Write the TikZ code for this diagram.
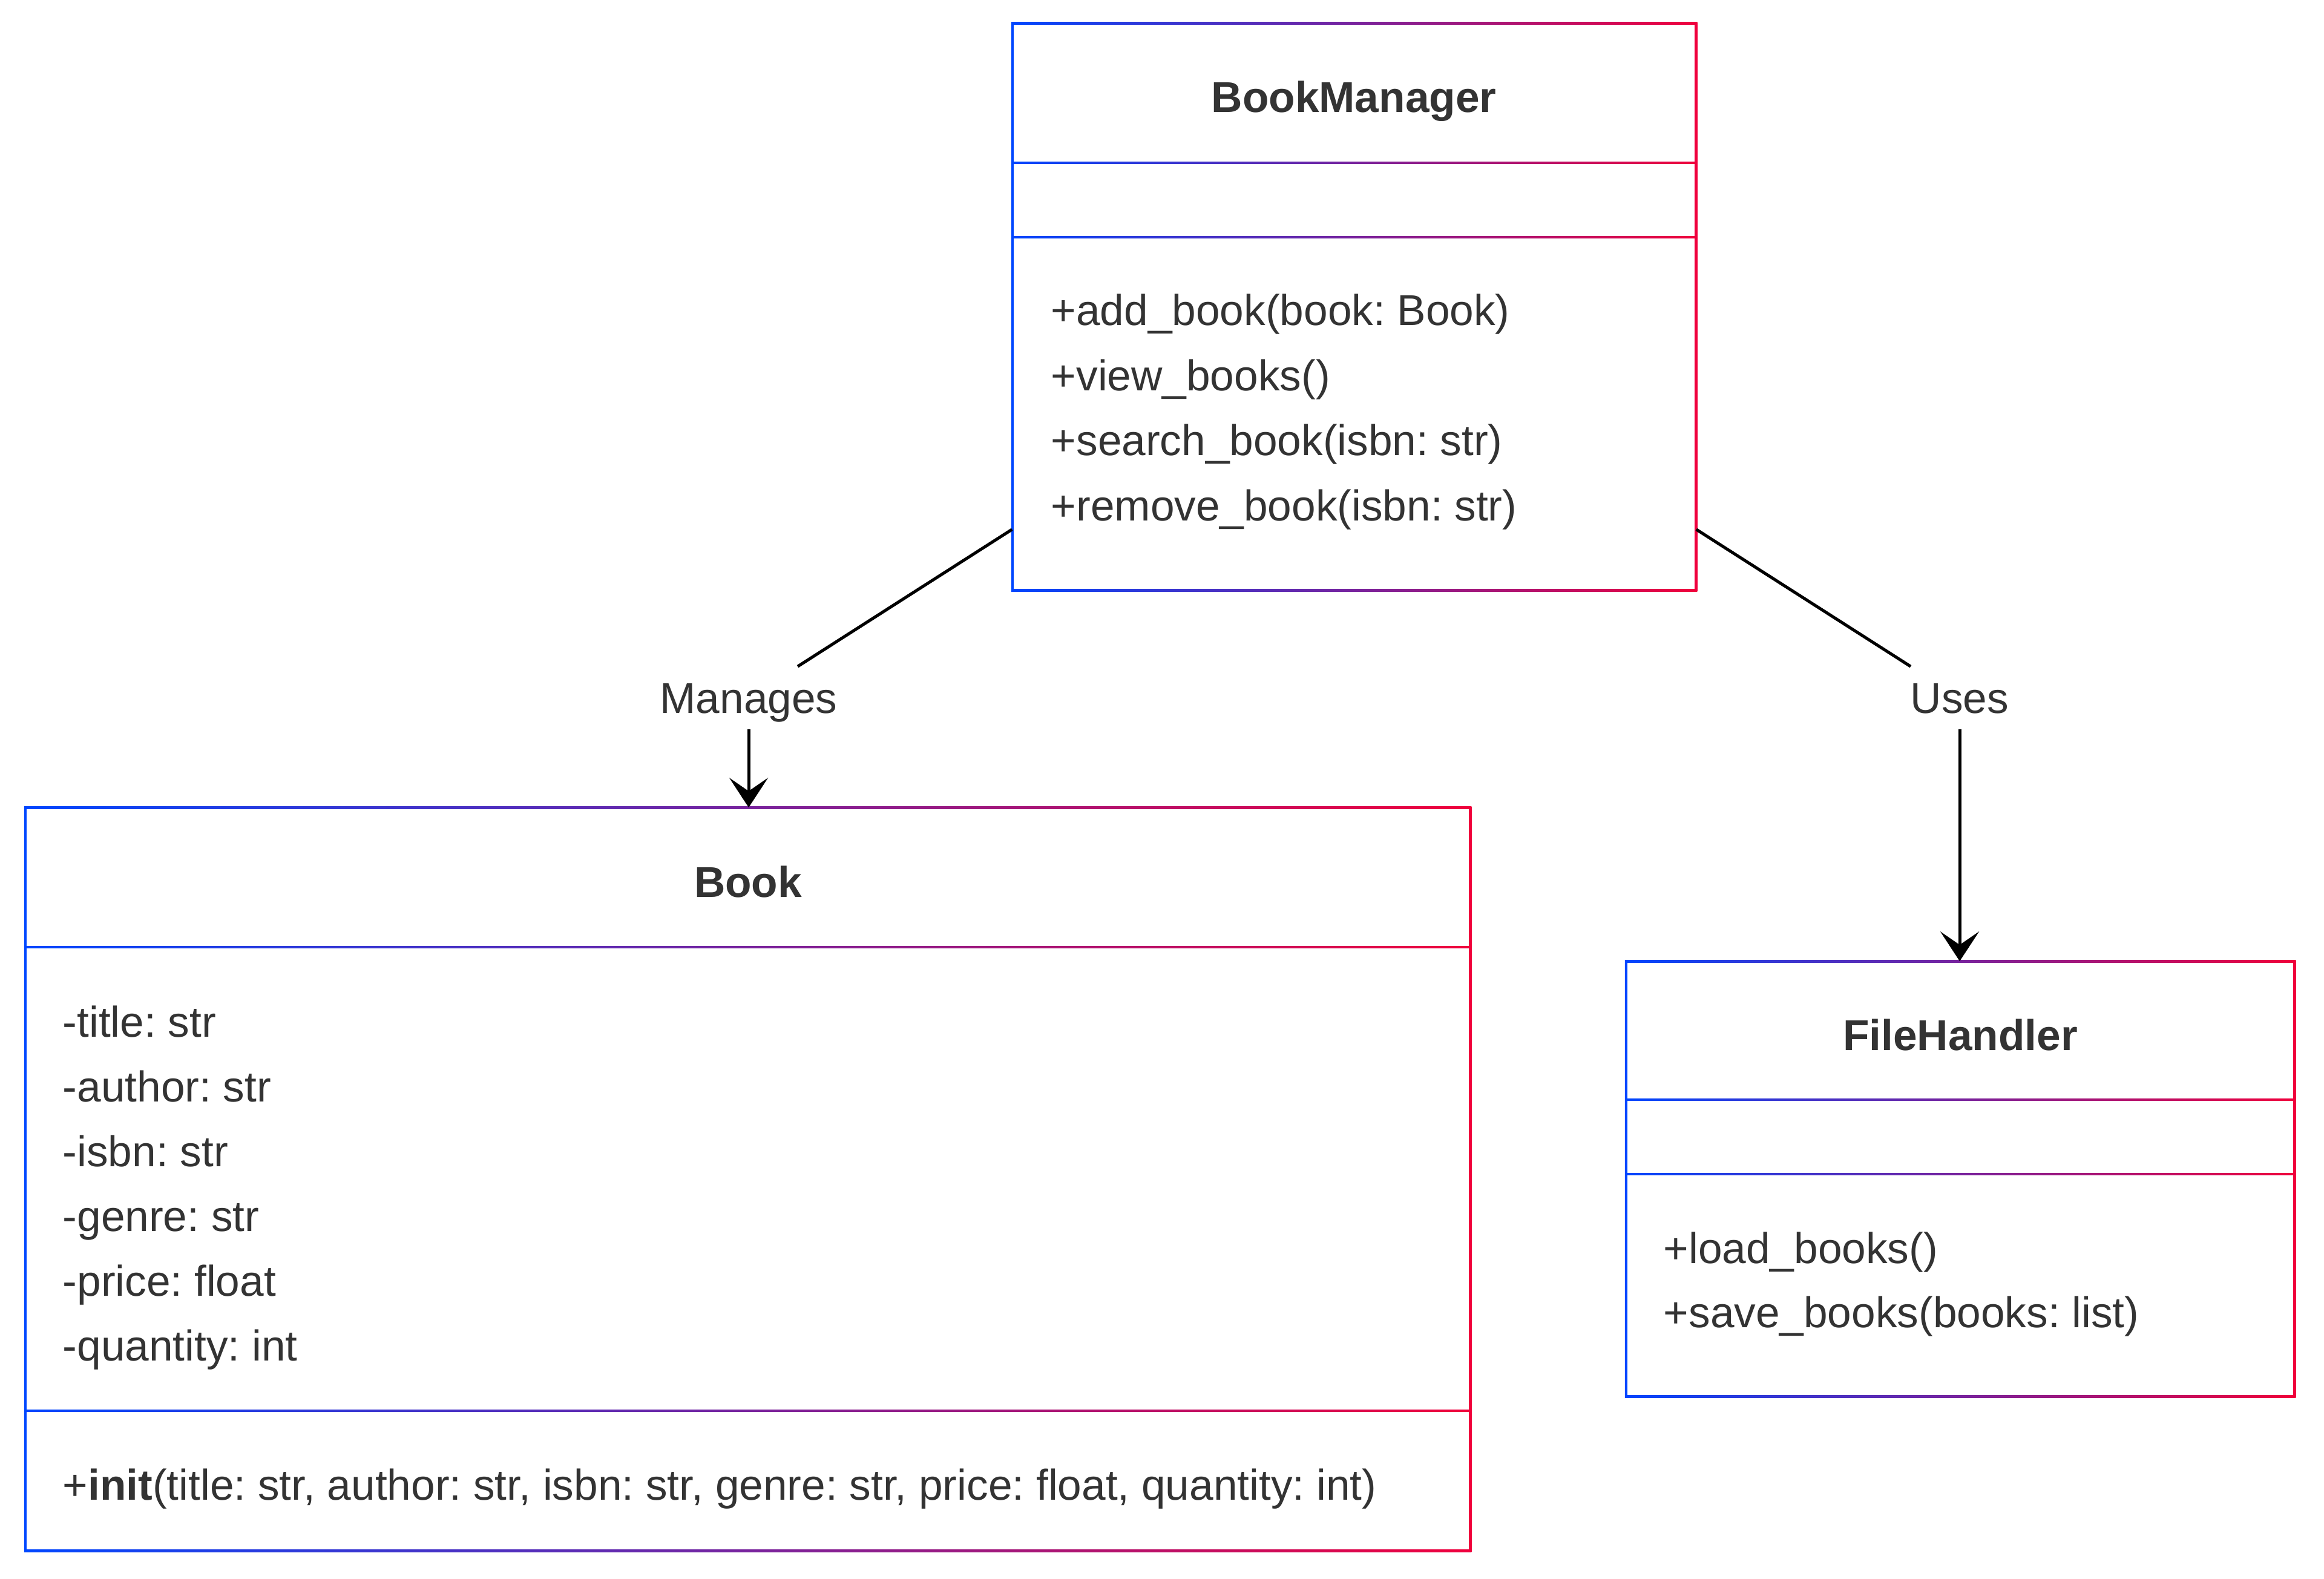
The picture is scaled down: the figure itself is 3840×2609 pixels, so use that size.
\documentclass[tikz,border=0pt]{standalone}
\usepackage{fontspec}
\setmainfont{Liberation Sans}
\usetikzlibrary{arrows.meta,fit,calc}
\definecolor{gblue}{RGB}{0,70,255}
\definecolor{gred}{RGB}{240,0,60}
\definecolor{txt}{RGB}{51,51,51}
\newcommand{\umlframe}[7]{%
  \shade[left color=gblue,right color=gred] (#1-2.25,#2-2.25) rectangle (#3+2.25,#4+2.25);
  \fill[white] (#1+2.25,#2+2.25) rectangle (#3-2.25,#5-2.25);
  \fill[white] (#1+2.25,#5+2.25) rectangle (#3-2.25,#6-2.25);
  \fill[white] (#1+2.25,#6+2.25) rectangle (#3-2.25,#4-2.25);
  \node[fit={(#1,#2)(#3,#4)}, inner sep=0pt] (#7) {};
}
\tikzset{
  umltitle/.style={font=\fontsize{17.8pt}{21pt}\selectfont\frenchspacing\bfseries, text=txt, anchor=base, inner sep=0pt},
  member/.style={font=\fontsize{17.8pt}{21pt}\selectfont\frenchspacing, text=txt, anchor=base west, inner sep=0pt},
  elabel/.style={font=\fontsize{17.8pt}{21pt}\selectfont, text=txt, anchor=base, inner xsep=2pt, inner ysep=0pt, text height=19pt, text depth=6.5pt},
  conn/.style={line width=1.25pt, black},
  arr/.style={conn, -{Stealth[length=12.25pt,width=16pt,inset=5.5pt]}}
}
\begin{document}
\frenchspacing
\begin{tikzpicture}[x=0.25pt,y=-0.25pt]
\fill[white] (0,0) rectangle (3840,2609);
\useasboundingbox (0,0) rectangle (3840,2609);

% BookManager
\umlframe{1673}{39}{2802}{975}{269}{392}{bm}
\node[umltitle] (bmT) at (2237,186) {BookManager};
\node[member] (bm1) at (1736,538) {+add\_book(book: Book)};
\node[member] (bm2) at (1736,646) {+view\_books()};
\node[member] (bm3) at (1736,753) {+search\_book(isbn: str)};
\node[member] (bm4) at (1736,860) {+remove\_book(isbn: str)};

% Book
\umlframe{42}{1335}{2429}{2562}{1565}{2331}{bk}
\node[umltitle] (bkT) at (1236,1482) {Book};
\node[member] (bk1) at (103,1713) {-title: str};
\node[member] (bk2) at (103,1820) {-author: str};
\node[member] (bk3) at (103,1927) {-isbn: str};
\node[member] (bk4) at (103,2034) {-genre: str};
\node[member] (bk5) at (103,2141) {-price: float};
\node[member] (bk6) at (103,2248) {-quantity: int};
\node[member] (bk7) at (103,2478) {+\textbf{init}(title: str, author: str, isbn: str, genre: str, price: float, quantity: int)};

% FileHandler
\umlframe{2687}{1589}{3791}{2307}{1817}{1940}{fh}
\node[umltitle] (fhT) at (3239,1735) {FileHandler};
\node[member] (fh1) at (2748,2087) {+load\_books()};
\node[member] (fh2) at (2748,2193) {+save\_books(books: list)};

% edge labels
\node[elabel] (lm) at (1237,1178) {Manages};
\node[elabel] (lu) at (3238,1178) {Uses};

% connectors
\draw[conn] ([yshift=25.25pt]bm.south west) -- (lm);
\draw[arr] (lm.south) -- (lm.south |- bk.north);
\draw[conn] ([yshift=25.25pt]bm.south east) -- (lu);
\draw[arr] (lu.south) -- (lu.south |- fh.north);
\end{tikzpicture}
\end{document}
